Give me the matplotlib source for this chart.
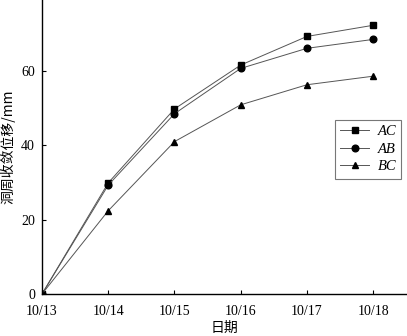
import matplotlib
matplotlib.use("Agg")
import matplotlib.pyplot as plt

dates = ["10/13", "10/14", "10/15", "10/16", "10/17", "10/18"]
ac = [0, 29.9, 49.8, 61.6, 69.3, 72.3]
ab = [0, 29.3, 48.5, 60.7, 66.1, 68.5]
bc = [0, 22.4, 41.0, 50.9, 56.3, 58.6]
yticks = [0, 20, 40, 60]

plt.rcParams["font.family"] = ["Liberation Serif", "Noto Sans CJK SC"]

fig = plt.figure(figsize=(4.07, 3.36), dpi=100)
ax = fig.add_axes([0.1032, 0.125, 0.8968, 0.875])

x = list(range(len(dates)))
line_kw = dict(color="#555555", lw=0.7, markeredgecolor="black", markerfacecolor="black")
ax.plot(x, ac, marker="s", ms=4.3, label="AC", **line_kw)
ax.plot(x, ab, marker="o", ms=4.8, label="AB", **line_kw)
ax.plot(x, bc, marker="^", ms=5.0, label="BC", **line_kw)

ax.set_xlim(0, 5.51)
ax.set_ylim(0, 79.1)
ax.set_xticks(x)
ax.set_xticklabels(dates)
ax.set_yticks(yticks)
ax.tick_params(direction="in", length=3, width=0.8, labelsize=10)
ax.tick_params(axis="x", pad=8)
ax.tick_params(axis="y", pad=5)
for s in ["top", "right"]:
    ax.spines[s].set_visible(False)
for s in ["left", "bottom"]:
    ax.spines[s].set_linewidth(1.0)

ax.set_xlabel("日期", family=["Noto Sans CJK SC"], fontsize=10, labelpad=2)
ax.set_ylabel("洞周收敛位移/mm", family=["Noto Sans CJK SC"], fontsize=10, labelpad=4)

leg = ax.legend(loc="upper left", bbox_to_anchor=(0.803, 0.592),
                prop={"family": "Liberation Serif", "style": "italic", "size": 10.5},
                frameon=True, fancybox=False, edgecolor="#555555", borderaxespad=0,
                handlelength=2.0, handletextpad=0.55, borderpad=0.35, labelspacing=0.3)
leg.get_frame().set_linewidth(0.8)

fig.savefig("out.png", dpi=100)
